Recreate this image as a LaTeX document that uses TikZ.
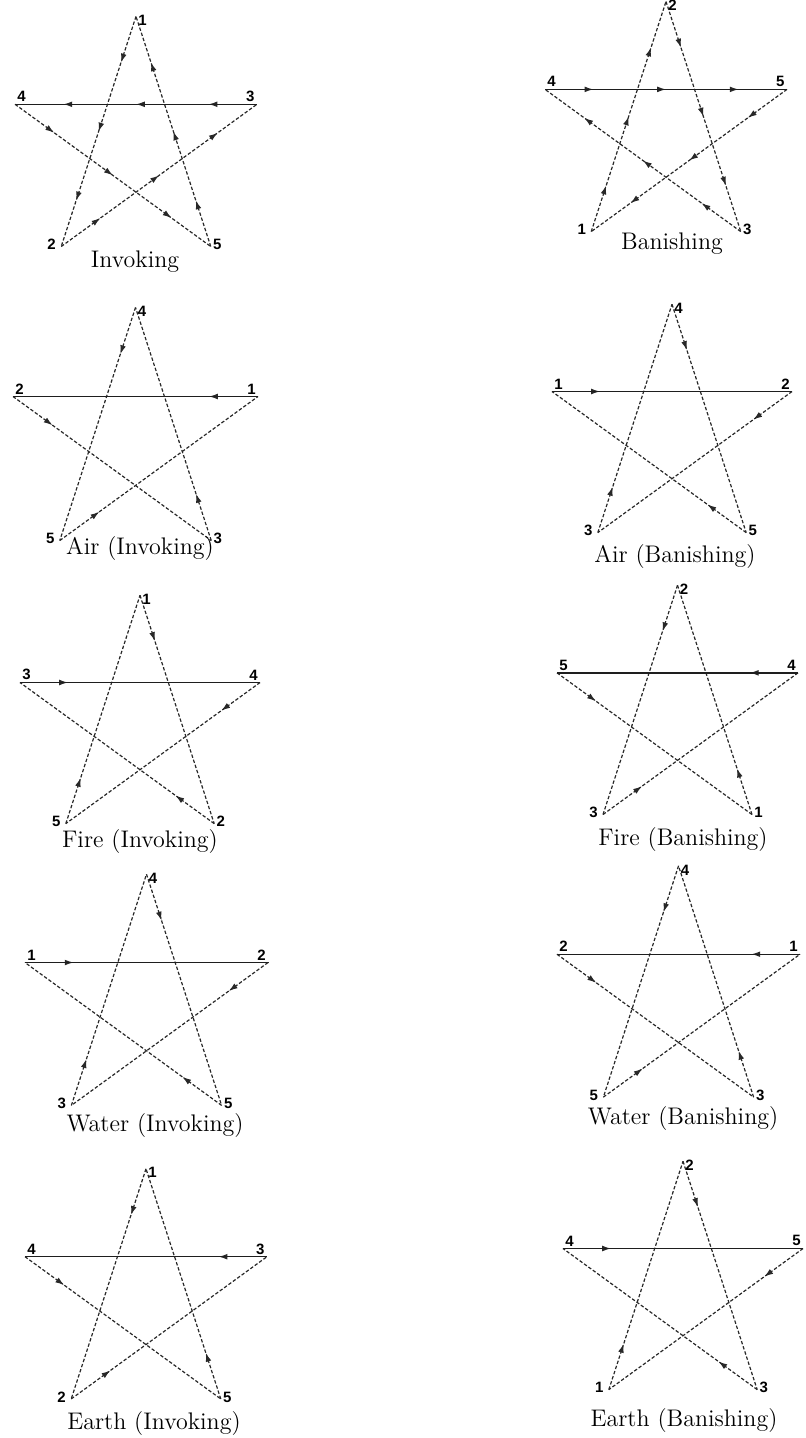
\documentclass[tikz,border=0pt]{standalone}
\usepackage{fontspec}
\newfontfamily\numfont{Liberation Sans}
\usepackage{xcolor}
\definecolor{pgink}{RGB}{40,40,40}
\definecolor{pgbar}{RGB}{30,30,30}
\usepackage{tikz}
\usetikzlibrary{arrows.meta,decorations.markings}

\tikzset{
  edge/.style={pgink, line width=0.6pt, dash pattern=on 1.7pt off 1pt},
  bar/.style={pgbar, line width=0.65pt},
  arrone/.style={postaction={decorate}, decoration={markings,
      mark=at position 0.2 with {\arrow{Latex[length=4.4pt,width=2.9pt]}}}},
  arrthree/.style={postaction={decorate}, decoration={markings,
      mark=at position 0.2 with {\arrow{Latex[length=4.4pt,width=2.9pt]}},
      mark=at position 0.5 with {\arrow{Latex[length=4.4pt,width=2.9pt]}},
      mark=at position 0.8 with {\arrow{Latex[length=4.4pt,width=2.9pt]}}}},
  num/.style={font=\numfont\bfseries\fontsize{7.5}{8}\selectfont, inner sep=1pt},
  pgcap/.style={font=\fontsize{12}{14}\selectfont, inner sep=0pt}
}

\begin{document}
\begin{tikzpicture}[x=0.5pt, y=-0.5pt]
\useasboundingbox (0,0) rectangle (805,1438);
% one pentagram per entry: centre, radius, numbers at top/right/bottom right/bottom left/left
\foreach \id/\cx/\cy/\rad/\nt/\nr/\nbr/\nbl/\nl/\ar/\capx/\capy/\txt in {
  inv/136/143.6/127.2/1/3/5/2/4/arrthree/135/262/Invoking,
  ban/666/128.7/127.2/2/5/3/1/4/arrthree/672/244/Banishing,
  airinv/135.5/436.3/128.8/4/1/3/5/2/arrone/140/549/Air (Invoking),
  airban/672/430.5/126.2/4/2/5/3/1/arrone/675/557/Air (Banishing),
  fireinv/140/721.5/126.2/1/4/2/5/3/arrone/140/842/Fire (Invoking),
  fireban/677.5/712/126.7/2/4/1/3/5/arrone/683/840/Fire (Banishing),
  waterinv/146.5/1002/127.8/4/2/5/3/1/arrone/155/1125/Water (Invoking),
  waterban/678.5/993.7/127.8/4/1/3/5/2/arrone/683/1118/Water (Banishing),
  earthinv/146/1296/127.2/1/3/5/2/4/arrone/154/1423/Earth (Invoking),
  earthban/683/1287.5/126.2/2/5/3/1/4/arrone/684/1420/Earth (Banishing)}{
  % points, named by their number
  \path (\cx,\cy) ++(-90:\rad) coordinate (\id-\nt) node[num, anchor=west, yshift=-2pt] (\id-n\nt) {\nt};
  \path (\cx,\cy) ++(-18:\rad) coordinate (\id-\nr) node[num, anchor=south east] (\id-n\nr) {\nr};
  \path (\cx,\cy) ++(54:\rad) coordinate (\id-\nbr) node[num, anchor=west, yshift=1pt] (\id-n\nbr) {\nbr};
  \path (\cx,\cy) ++(126:\rad) coordinate (\id-\nbl) node[num, anchor=east, xshift=-1.5pt, yshift=1pt] (\id-n\nbl) {\nbl};
  \path (\cx,\cy) ++(198:\rad) coordinate (\id-\nl) node[num, anchor=south west] (\id-n\nl) {\nl};
  % strokes in drawing order
  \foreach \i/\j in {1/2,2/3,3/4,4/5,5/1}
    \draw[edge, \ar] (\id-\i) -- (\id-\j);
  % cross bar
  \draw[bar] (\id-\nl) -- (\id-\nr);
  \node[pgcap] (\id-cap) at (\capx,\capy) {\txt};
}
\end{tikzpicture}
\end{document}
